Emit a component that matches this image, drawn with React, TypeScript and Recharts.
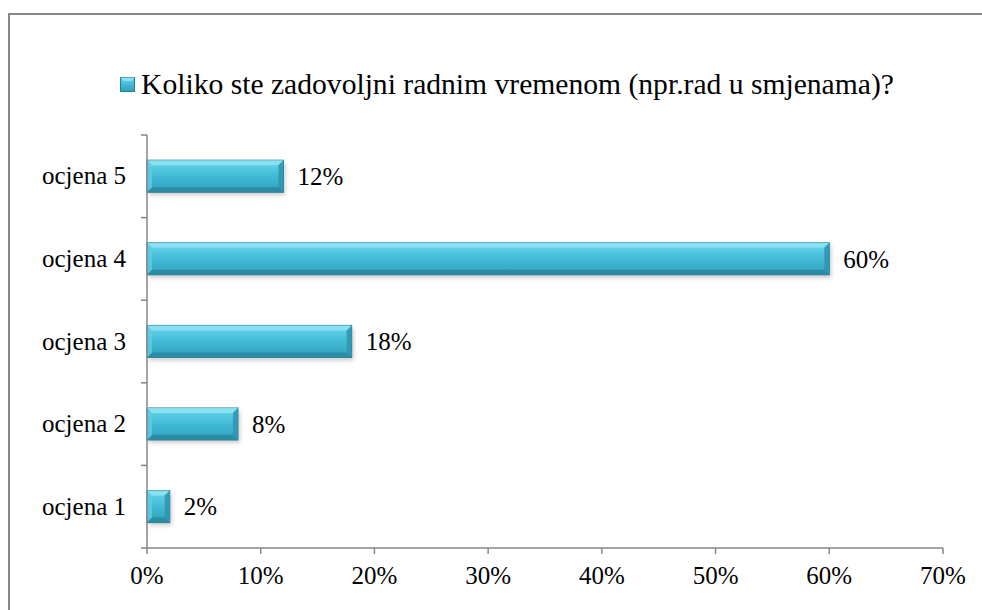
import React from "react";
import { BarChart, Bar, XAxis, YAxis, Legend, LabelList } from "recharts";

const categories = ["ocjena 5", "ocjena 4", "ocjena 3", "ocjena 2", "ocjena 1"];
const values = [12, 60, 18, 8, 2];
const xTicks = [0, 10, 20, 30, 40, 50, 60, 70];
const seriesName = "Koliko ste zadovoljni radnim vremenom (npr.rad u smjenama)?";

const data = categories.map((c, i) => ({ name: c, value: values[i] }));

const FONT = "Liberation Serif";
const AXIS = "#868686";
const TICK_SIZE = 6;
const TICK_MARGIN = 15;
const FS = 25;

const BevelBar = (props: any) => {
  const { x, y, width, height } = props;
  if (!width || width <= 0) return null;
  const b = Math.min(5, width / 3, height / 3);
  return (
    <g>
      <rect x={x + 2} y={y + 3} width={width} height={height} fill="#000" opacity={0.2} filter="url(#blurShadow)" />
      <rect x={x} y={y} width={width} height={height} fill="url(#barGrad)" stroke="#2a7d93" strokeWidth={1} />
      <polygon points={`${x},${y} ${x + width},${y} ${x + width - b},${y + b} ${x + b},${y + b}`} fill="#8fe3f3" opacity={0.85} />
      <polygon points={`${x},${y + height} ${x + width},${y + height} ${x + width - b},${y + height - b} ${x + b},${y + height - b}`} fill="#2a89a2" opacity={0.9} />
      <polygon points={`${x + width},${y} ${x + width},${y + height} ${x + width - b},${y + height - b} ${x + width - b},${y + b}`} fill="#2f97b1" opacity={0.9} />
      <polygon points={`${x},${y} ${x},${y + height} ${x + b},${y + height - b} ${x + b},${y + b}`} fill="#5fcde4" opacity={0.8} />
    </g>
  );
};

const CatTick = (props: any) => {
  const { x, y, payload, index, height, visibleTicksCount } = props;
  const band = height / visibleTicksCount;
  const axisX = x + TICK_MARGIN + TICK_SIZE;
  return (
    <g>
      <line x1={axisX - TICK_SIZE} x2={axisX} y1={y - band / 2} y2={y - band / 2} stroke={AXIS} strokeWidth={1.5} />
      {index === visibleTicksCount - 1 && (
        <line x1={axisX - TICK_SIZE} x2={axisX} y1={y + band / 2} y2={y + band / 2} stroke={AXIS} strokeWidth={1.5} />
      )}
      <text x={x} y={y} dy={8} textAnchor="end" fontFamily={FONT} fontSize={FS} fill="#000">
        {payload.value}
      </text>
    </g>
  );
};

const LegendContent = () => (
  <div style={{ display: "flex", justifyContent: "center", alignItems: "center", paddingLeft: 61, fontFamily: FONT, fontSize: 29.6, color: "#000" }}>
    <svg width={15} height={15} style={{ marginRight: 6 }}>
      <rect x={0.5} y={0.5} width={14} height={14} fill="url(#barGrad)" stroke="#2a7d93" />
      <polygon points="0.5,0.5 14.5,0.5 11,4 4,4" fill="#8fe3f3" opacity={0.85} />
    </svg>
    <span>{seriesName}</span>
  </div>
);

export default function App() {
  return (
    <div style={{ position: "absolute", left: 8, top: 13, width: 972, height: 595, borderTop: `2px solid ${AXIS}`, borderLeft: `2px solid ${AXIS}`, background: "#fff" }}>
      <svg width={0} height={0} style={{ position: "absolute" }}>
        <defs>
          <linearGradient id="barGrad" x1="0" y1="0" x2="0" y2="1">
            <stop offset="0" stopColor="#6fd6ec" />
            <stop offset="0.45" stopColor="#44bdd8" />
            <stop offset="1" stopColor="#319fba" />
          </linearGradient>
          <filter id="blurShadow" x="-10%" y="-30%" width="120%" height="160%">
            <feGaussianBlur stdDeviation="2" />
          </filter>
        </defs>
      </svg>
      <BarChart
        width={972}
        height={590}
        data={data}
        layout="vertical"
        barCategoryGap="30.5%"
        margin={{ top: 53, right: 39, left: 0, bottom: 0 }}
      >
        <Legend verticalAlign="top" align="center" content={<LegendContent />} wrapperStyle={{ paddingBottom: 34 }} />
        <XAxis
          type="number"
          domain={[0, 70]}
          ticks={xTicks}
          tickFormatter={(v: number) => `${v}%`}
          stroke={AXIS}
          tickSize={TICK_SIZE}
          tickMargin={12}
          height={57}
          tick={{ fontFamily: FONT, fontSize: FS, fill: "#000" }}
          axisLine={{ stroke: AXIS, strokeWidth: 1.5 }}
          tickLine={{ stroke: AXIS, strokeWidth: 1.5 }}
          interval={0}
        />
        <YAxis
          type="category"
          dataKey="name"
          width={137}
          tickSize={TICK_SIZE}
          tickMargin={TICK_MARGIN}
          tickLine={false}
          axisLine={{ stroke: AXIS, strokeWidth: 1.5 }}
          tick={<CatTick />}
          interval={0}
        />
        <Bar dataKey="value" name={seriesName} isAnimationActive={false} shape={<BevelBar />}>
          <LabelList dataKey="value" position="right" offset={14} formatter={(v: number) => `${v}%`} fontFamily={FONT} fontSize={FS} fill="#000" />
        </Bar>
      </BarChart>
    </div>
  );
}
